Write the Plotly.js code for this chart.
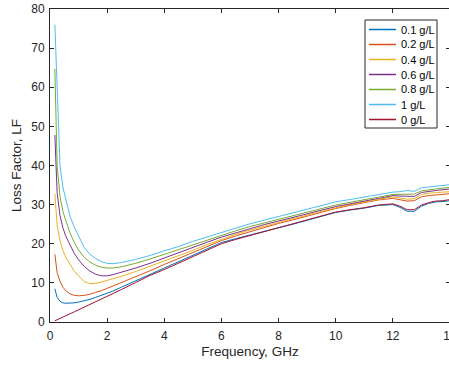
<!DOCTYPE html>
<html>
<head>
<meta charset="utf-8">
<script src="https://cdn.plot.ly/plotly-3.0.1.min.js"></script>
<style>
html,body{margin:0;padding:0;overflow:hidden;background:#fff;}
#chart{width:450px;height:365px;}
</style>
</head>
<body>
<div id="chart"></div>
<script>
// Frequency grid (GHz)
var freq = [0.17,0.25,0.35,0.45,0.55,0.7,0.85,1.0,1.2,1.4,1.6,1.8,2.0,2.2,2.5,3.0,3.5,4.0,4.5,5.0,5.5,6.0,6.5,7.0,7.5,8.0,8.5,9.0,9.5,10.0,10.5,11.0,11.5,12.0,12.25,12.5,12.75,13.0,13.25,13.5,13.75,14.0];

// Loss factor for each concentration
var lf_01 = [8.5,6.3,5.3,4.9,4.8,4.8,4.9,5.1,5.4,5.8,6.3,6.8,7.3,7.9,8.9,10.5,12.2,13.8,15.3,16.9,18.7,20.3,21.3,22.3,23.2,24.1,25.0,26.0,27.0,28.0,28.6,29.1,29.8,30.0,29.3,28.3,28.3,29.6,30.3,30.7,30.8,31.0];
var lf_02 = [17.3,12.6,10.4,8.9,8.0,7.2,6.8,6.7,6.8,7.1,7.6,8.0,8.6,9.2,10.0,11.5,13.1,14.7,16.2,17.7,19.3,20.8,22.0,23.1,24.2,25.2,26.1,27.1,28.1,29.0,29.8,30.5,31.2,31.6,31.2,30.9,31.0,32.0,32.3,32.5,32.6,32.8];
var lf_04 = [32.8,24.8,20.8,18.3,16.6,14.9,13.0,11.8,10.3,9.8,9.9,10.2,10.6,11.1,11.7,12.9,14.2,15.5,16.9,18.3,19.8,21.2,22.4,23.5,24.5,25.5,26.4,27.3,28.3,29.2,30.0,30.7,31.4,32.0,31.7,31.4,31.5,32.6,32.9,33.1,33.2,33.3];
var lf_06 = [47.8,33.0,27.2,24.1,22.0,19.6,17.5,15.9,14.2,13.0,12.2,11.8,11.8,12.1,12.7,13.8,15.0,16.4,17.7,19.1,20.4,21.7,22.8,23.9,24.9,25.8,26.7,27.6,28.6,29.5,30.2,30.9,31.6,32.3,32.2,32.1,32.1,33.1,33.4,33.6,33.8,34.0];
var lf_08 = [64.7,40.0,32.0,28.3,26.0,22.8,20.3,18.4,16.5,15.3,14.5,14.0,13.8,13.8,14.1,15.0,16.1,17.3,18.5,19.8,21.0,22.2,23.3,24.4,25.3,26.2,27.1,28.1,29.0,29.9,30.6,31.2,31.9,32.6,32.6,32.7,32.7,33.5,33.8,34.0,34.2,34.4];
var lf_10 = [76.0,60.0,40.0,34.5,31.3,27.0,24.3,21.9,19.0,17.3,16.2,15.4,15.0,14.9,15.2,16.0,17.0,18.2,19.3,20.6,21.8,23.0,24.0,25.1,26.0,27.0,27.9,28.9,29.8,30.7,31.3,31.9,32.6,33.2,33.3,33.6,33.4,34.3,34.5,34.7,34.9,35.1];
var lf_00 = [0.3,0.6,0.9,1.3,1.6,2.1,2.6,3.1,3.8,4.5,5.2,5.8,6.5,7.2,8.3,10.1,11.9,13.4,15.0,16.6,18.4,20.0,21.1,22.1,23.0,24.0,25.0,26.1,27.1,28.1,28.7,29.2,29.9,30.2,29.6,28.7,28.7,29.9,30.5,30.9,31.0,31.3];

var names = ['0.1 g/L','0.2 g/L','0.4 g/L','0.6 g/L','0.8 g/L','1 g/L','0 g/L'];
var series = [lf_01, lf_02, lf_04, lf_06, lf_08, lf_10, lf_00];
var colors = ['#0072BD','#D95319','#EDB120','#7E2F8E','#77AC30','#4DBEEE','#A2142F'];

var xTicks = [0,2,4,6,8,10,12,14];
var yTicks = [0,10,20,30,40,50,60,70,80];

var W = 450, H = 365, ML = 50, MR = 0, MT = 9, MB = 43;
var PW = W - ML - MR, PH = H - MT - MB;
function px2x(p){ return (p - ML) / PW; }
function px2y(p){ return (H - MB - p) / PH; }

var FONT = 'Liberation Sans, Arial, sans-serif';

var traces = series.map(function(s, i){
  return {x: freq, y: s, type: 'scatter', mode: 'lines', name: names[i],
          line: {color: colors[i], width: 1}, showlegend: false, hoverinfo: 'skip'};
});

// Manual legend (MATLAB style compact)
var shapes = [], annotations = [];
var lgL = 365, lgR = 437, lgT = 20, lgB = 128, rowY0 = 29.5, rowDY = 15;
shapes.push({type:'rect', xref:'paper', yref:'paper', x0:px2x(lgL), x1:px2x(lgR), y0:px2y(lgB), y1:px2y(lgT),
  line:{color:'#262626', width:1}, fillcolor:'#ffffff', layer:'above'});
names.forEach(function(n, i){
  var yy = px2y(rowY0 + i*rowDY);
  shapes.push({type:'line', xref:'paper', yref:'paper', x0:px2x(369), x1:px2x(396), y0:yy, y1:yy,
    line:{color:colors[i], width:1.5}, layer:'above'});
  annotations.push({xref:'paper', yref:'paper', x:px2x(399), y:yy, xanchor:'left', yanchor:'middle',
    text:n, showarrow:false, font:{family:FONT, size:11, color:'#000000'}});
});

var axisCommon = {
  showgrid:false, zeroline:false, showline:true, linecolor:'#262626', linewidth:1,
  ticks:'inside', ticklen:4, tickwidth:1, tickcolor:'#262626', mirror:'ticks',
  ticklabeloverflow:'allow',
  tickfont:{family:FONT, size:12, color:'#262626'}
};

var layout = {
  width: W, height: H,
  margin: {l: ML, r: MR, t: MT, b: MB, pad: 0},
  paper_bgcolor: '#ffffff', plot_bgcolor: '#ffffff',
  showlegend: false,
  xaxis: Object.assign({}, axisCommon, {range:[0,14], tickvals:xTicks, ticktext:xTicks.map(String),
    ticklabelstandoff:3,
    title:{text:'Frequency, GHz', font:{family:FONT, size:13.5, color:'#262626'}, standoff:4}}),
  yaxis: Object.assign({}, axisCommon, {range:[0,80], tickvals:yTicks, ticktext:yTicks.map(String),
    ticklabelstandoff:2,
    title:{text:'Loss Factor, LF', font:{family:FONT, size:13.5, color:'#262626'}, standoff:6}}),
  shapes: shapes,
  annotations: annotations
};

Plotly.newPlot('chart', traces, layout, {staticPlot:true, displayModeBar:false});
</script>
</body>
</html>
